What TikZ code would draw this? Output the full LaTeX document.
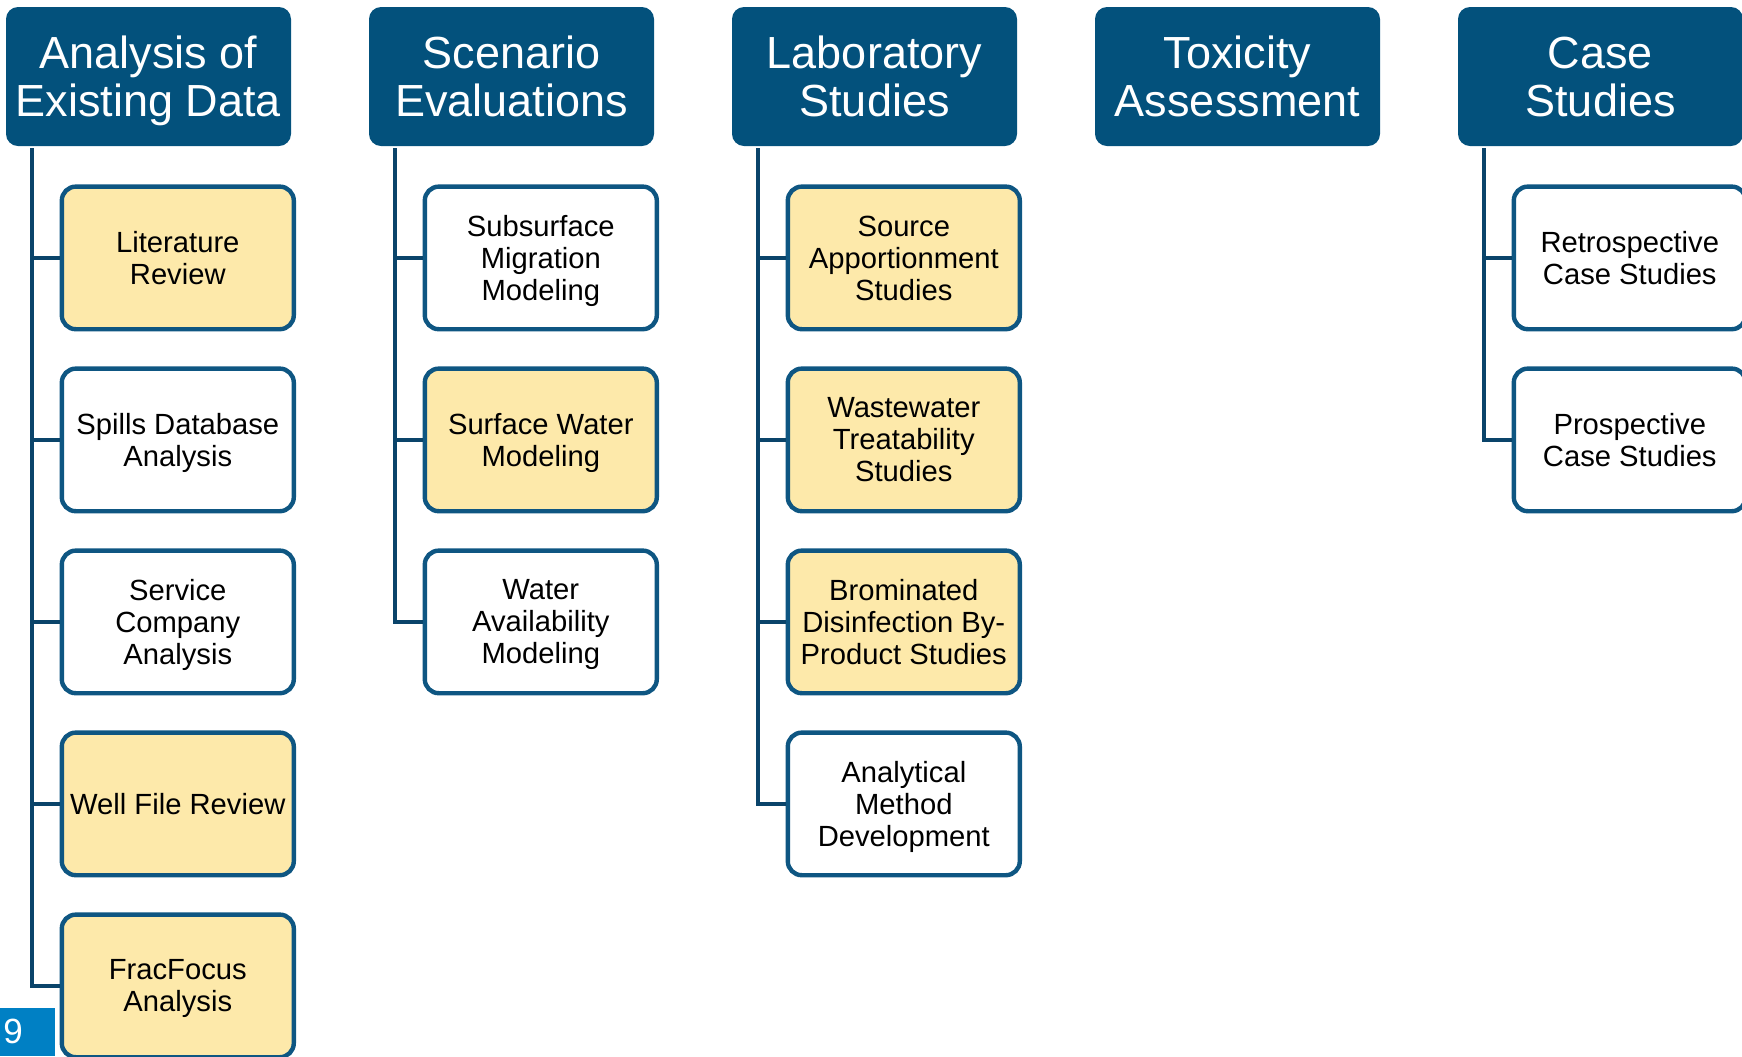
\documentclass[tikz,border=0pt]{standalone}
\usepackage{fontspec}
\setmainfont{Liberation Sans}
\usetikzlibrary{positioning}
\definecolor{headblue}{RGB}{3,81,124}
\definecolor{edgeblue}{RGB}{14,86,130}
\definecolor{linkblue}{RGB}{10,68,106}
\definecolor{hlyellow}{RGB}{253,233,170}
\definecolor{pageblue}{RGB}{0,128,196}
\tikzset{
head/.style={fill=headblue, text=white, rounded corners=6pt, inner sep=0pt,
  minimum width=142.5pt, minimum height=69.5pt, align=center, text depth=0pt,
  font=\fontsize{22.5}{24}\selectfont},
task/.style={draw=edgeblue, line width=2.2pt, fill=white, rounded corners=7pt,
  inner sep=0pt, minimum width=116pt, minimum height=71.3pt, align=center,
  text depth=0pt, font=\fontsize{14.6}{16}\selectfont},
hl/.style={task, fill=hlyellow},
first under/.style={below=19pt of #1.south west, anchor=north west, xshift=27pt},
link/.style={draw=linkblue, line width=2pt},
node distance=17.5pt,
}

\begin{document}
\begin{tikzpicture}
\useasboundingbox (0,0) rectangle (871pt,-528pt);
\clip (0,0) rectangle (871pt,-528pt);

    % headers
    \node[head] (h1) at (74.25pt,-38.25pt) {Analysis of\\Existing Data};
    \node[head, right=38.6pt of h1] (h2) {Scenario\\Evaluations};
    \node[head, right=38.6pt of h2] (h3) {Laboratory\\Studies};
    \node[head, right=38.6pt of h3] (h4) {Toxicity\\Assessment};
    \node[head, right=38.6pt of h4] (h5) {Case\\Studies};

    % existing data
    \node[hl, first under=h1] (a1) {Literature\\Review};
    \node[task, below=of a1] (a2) {Spills Database\\Analysis};
    \node[task, below=of a2] (a3) {Service\\Company\\Analysis};
    \node[hl, below=of a3] (a4) {Well File Review};
    \node[hl, below=of a4] (a5) {FracFocus\\Analysis};

    % scenarios
    \node[task, first under=h2] (b1) {Subsurface\\Migration\\Modeling};
    \node[hl, below=of b1] (b2) {Surface Water\\Modeling};
    \node[task, below=of b2] (b3) {Water\\Availability\\Modeling};

    % laboratory
    \node[hl, first under=h3] (c1) {Source\\Apportionment\\Studies};
    \node[hl, below=of c1] (c2) {Wastewater\\Treatability\\Studies};
    \node[hl, below=of c2] (c3) {Brominated\\Disinfection By-\\Product Studies};
    \node[task, below=of c3] (c4) {Analytical\\Method\\Development};

    % case studies
    \node[task, first under=h5] (d1) {Retrospective\\Case Studies};
    \node[task, below=of d1] (d2) {Prospective\\Case Studies};

    \coordinate[below right=1pt and 13pt of h1.south west] (t1);
    \coordinate[below right=1pt and 13pt of h2.south west] (t2);
    \coordinate[below right=1pt and 13pt of h3.south west] (t3);
    \coordinate[below right=1pt and 13pt of h5.south west] (t5);

    \draw[link]
    (t1) |- (a1.west) (t1) |- (a2.west) (t1) |- (a3.west)
    (t1) |- (a4.west) (t1) |- (a5.west)
    (t2) |- (b1.west) (t2) |- (b2.west) (t2) |- (b3.west)
    (t3) |- (c1.west) (t3) |- (c2.west) (t3) |- (c3.west) (t3) |- (c4.west)
    (t5) |- (d1.west) (t5) |- (d2.west)
    ;

    \node[fill=pageblue, text=white, anchor=south west, inner sep=1.5pt,
      minimum height=24pt, text width=24.5pt, align=left,
      font=\fontsize{17.5}{20}\selectfont] (pg) at (0,-528pt) {9};
\end{tikzpicture}
\end{document}
